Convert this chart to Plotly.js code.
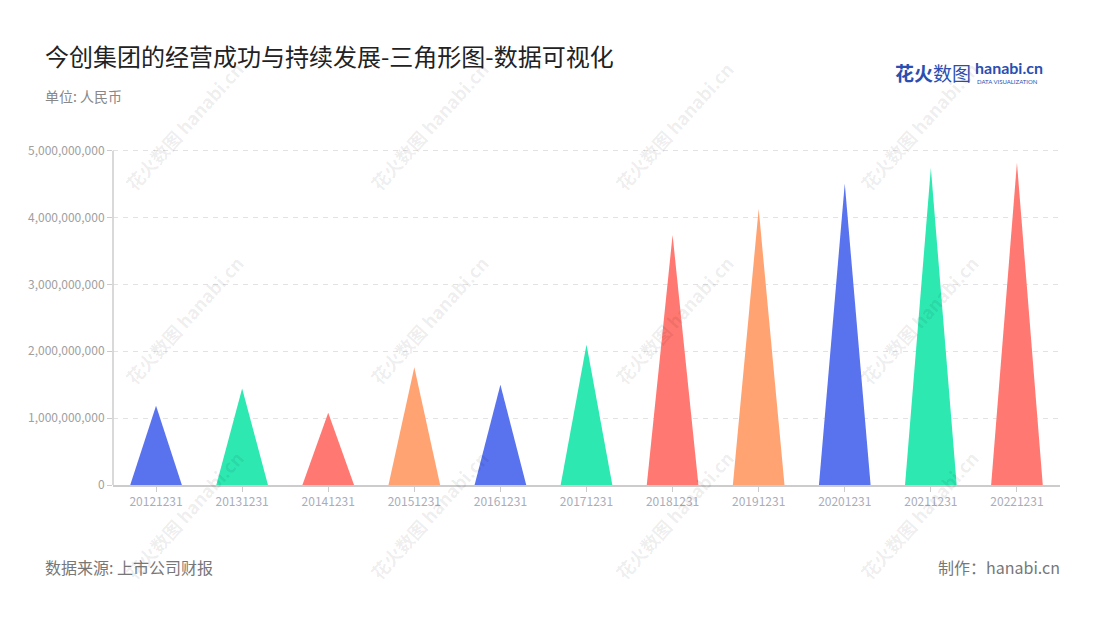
<!DOCTYPE html>
<html>
<head>
<meta charset="utf-8">
<script src="https://cdn.plot.ly/plotly-3.0.1.min.js"></script>
<style>html,body{margin:0;padding:0;background:#fff;}#chart{width:1100px;height:620px;}</style>
</head>
<body>
<div id="chart"></div>
<script>
const categories = ["20121231","20131231","20141231","20151231","20161231","20171231","20181231","20191231","20201231","20211231","20221231"];
const values = [1186000000,1445000000,1080000000,1760000000,1500000000,2100000000,3740000000,4130000000,4510000000,4740000000,4820000000];
const palette = ["#5972EE","#2DE8B1","#FF7871","#FFA372"];
const yTicks = [0,1000000000,2000000000,3000000000,4000000000,5000000000];

const halfWidth = 0.3;
const traces = categories.map((c, i) => ({
  type: "scatter",
  mode: "lines",
  x: [i - halfWidth, i, i + halfWidth, i - halfWidth],
  y: [0, values[i], 0, 0],
  fill: "toself",
  fillcolor: palette[i % palette.length],
  line: {width: 0, color: palette[i % palette.length]},
  hoverinfo: "skip",
  showlegend: false
}));

const font = "'Noto Sans CJK SC', 'Noto Sans', sans-serif";
const yMax = yTicks[yTicks.length - 1];
const layout = {
  width: 1100, height: 620,
  margin: {l: 113, r: 40, t: 144, b: 135},
  paper_bgcolor: "#fff", plot_bgcolor: "#fff",
  font: {family: font},
  showlegend: false,
  xaxis: {
    range: [-0.5, categories.length - 0.5],
    tickvals: categories.map((c, i) => i),
    ticktext: categories,
    showgrid: false, zeroline: false,
    showline: true, linecolor: "#cccccc", linewidth: 1.5,
    ticks: "outside", ticklen: 5, tickcolor: "#cccccc",
    tickfont: {size: 12, color: "#a9adba", family: font},
    fixedrange: true
  },
  yaxis: {
    range: [0, yMax * 1.02],
    tickvals: yTicks,
    tickformat: ",d",
    showgrid: true, gridcolor: "#e2e2e2", griddash: "5px,5px", gridwidth: 1,
    zeroline: false,
    showline: false,
    ticks: "outside", ticklen: 5, tickcolor: "#cccccc",
    tickfont: {size: 12, color: "#a0a0a0", family: font},
    fixedrange: true
  },
  shapes: [
    {type: "line", xref: "paper", yref: "y", x0: 0, x1: 0, y0: 0, y1: yMax,
     line: {color: "#cccccc", width: 1.5}}
  ],
  annotations: [
    {text: "今创集团的经营成功与持续发展-三角形图-数据可视化", font: {size: 24, color: "#222222", family: font}},
    {text: "单位: 人民币", font: {size: 14, color: "#888888", family: font}},
    {text: "数据来源: 上市公司财报", font: {size: 16, color: "#777777", family: font}},
    {text: "制作：hanabi.cn", font: {size: 16, color: "#777777", family: font}},
    {text: "<b>花火</b>数图", font: {size: 19, color: "#2a4fb0", family: font}},
    {text: "<b>hanabi.cn</b>", font: {size: 16, color: "#2a4fb0", family: "'Lato', sans-serif"}},
    {text: "DATA VISUALIZATION", font: {size: 6, color: "#2a4fb0", family: "'Lato', sans-serif"}}
  ]
};

function px(xp, yp) {
  const pw = 1100 - layout.margin.l - layout.margin.r;
  const ph = 620 - layout.margin.t - layout.margin.b;
  return {x: (xp - layout.margin.l) / pw, y: (620 - layout.margin.b - yp) / ph};
}
const pos = [
  [43, 55, "left"], [43, 96, "left"], [43, 567, "left"], [1062, 567, "right"],
  [893, 73, "left"], [973, 68, "left"], [975, 82, "left"]
];
pos.forEach((p, k) => {
  const c = px(p[0], p[1]);
  Object.assign(layout.annotations[k], {showarrow: false, xref: "paper", yref: "paper", x: c.x, y: c.y, xanchor: p[2], yanchor: "middle"});
});

// faint watermarks
const wmCols = [184, 429, 674, 919];
const wmRows = [126, 320, 515];
wmRows.forEach(wy => wmCols.forEach(wx => {
  const c = px(wx, wy);
  layout.annotations.push({
    text: "<b>花火数图</b> <b>hanabi.cn</b>", showarrow: false, xref: "paper", yref: "paper",
    x: c.x, y: c.y, xanchor: "center", yanchor: "middle", textangle: -48,
    font: {size: 18, color: "rgba(0,0,0,0.075)", family: font}
  });
}));

Plotly.newPlot("chart", traces, layout, {displayModeBar: false, staticPlot: true});
</script>
</body>
</html>
